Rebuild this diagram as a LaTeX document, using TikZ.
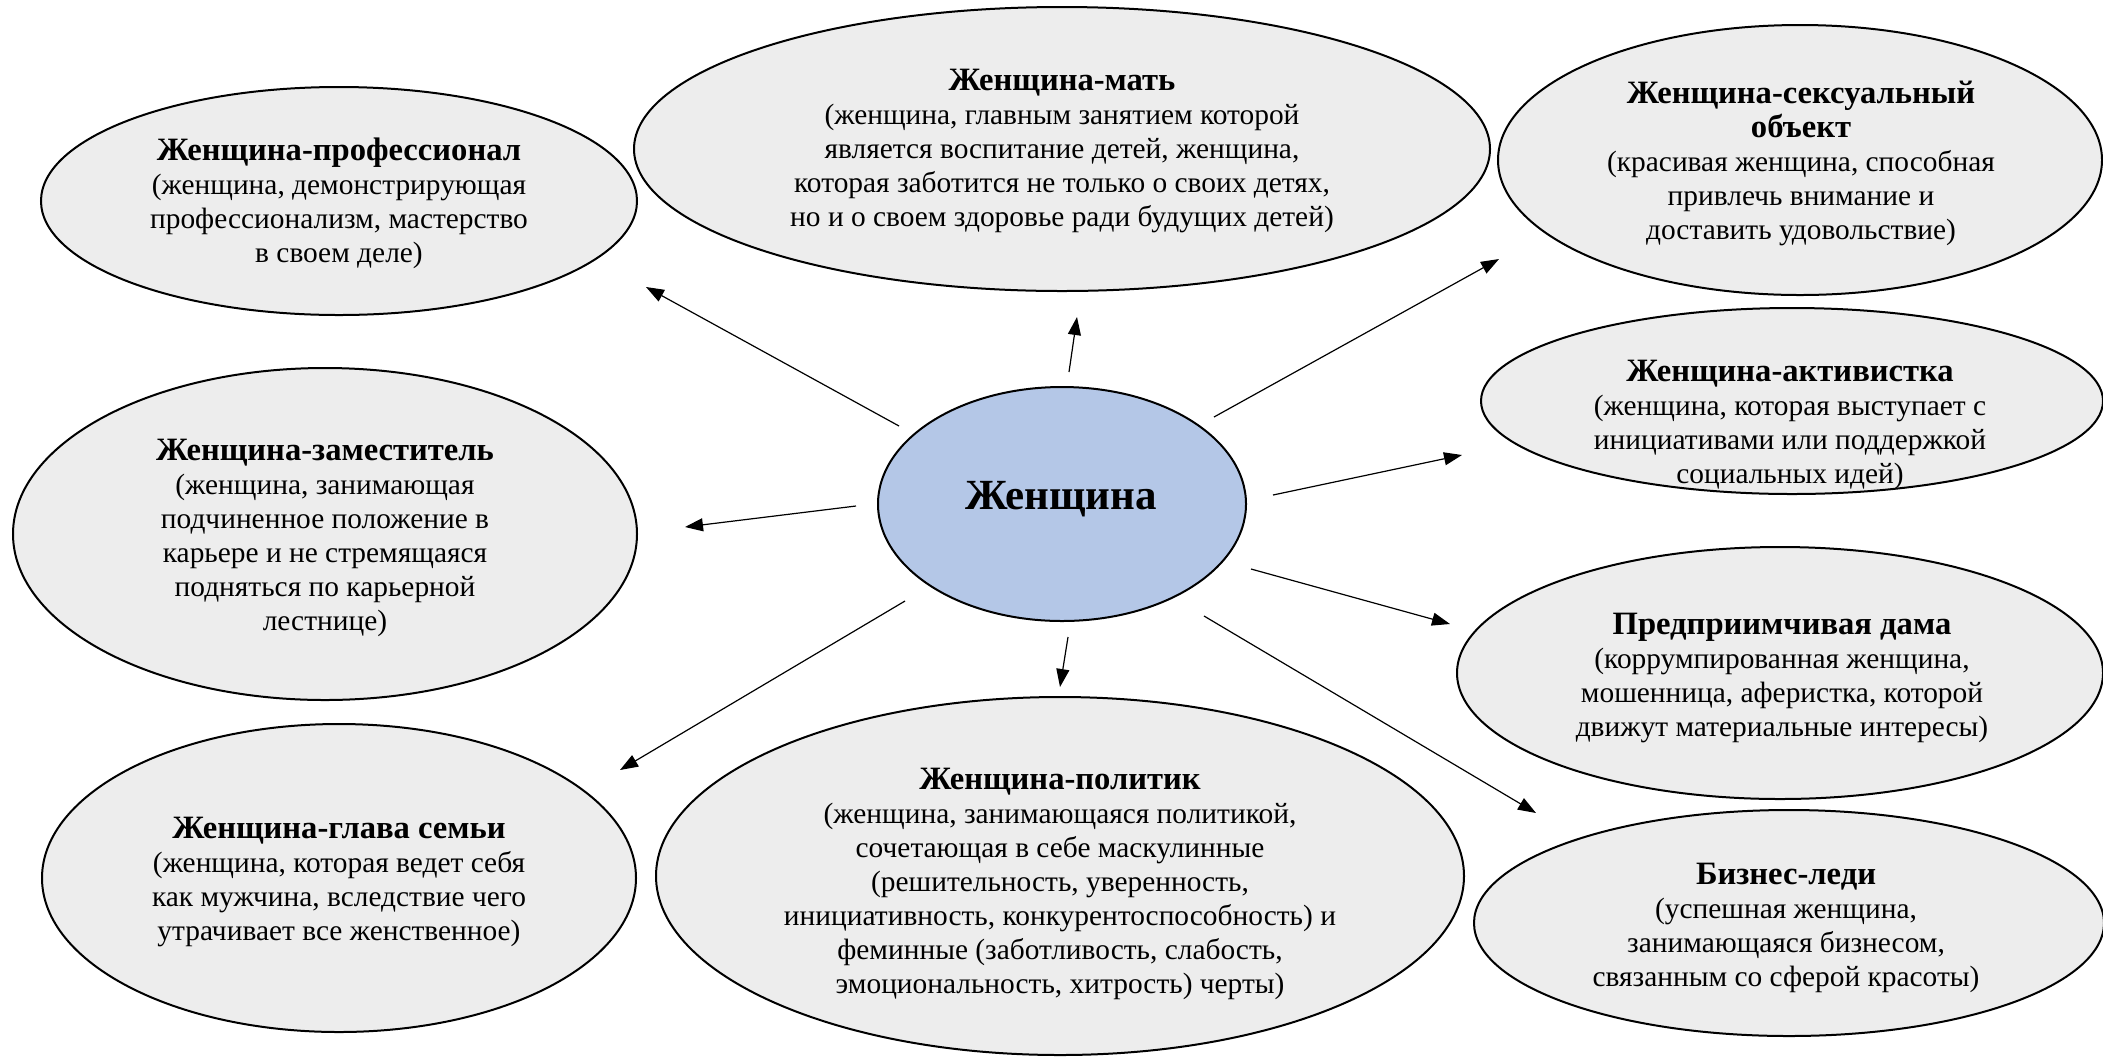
\documentclass[tikz,border=0pt]{standalone}
\usepackage{fontspec}
\setmainfont{Liberation Serif}
\usetikzlibrary{arrows.meta,shapes.geometric}
\definecolor{ovalgrey}{HTML}{EDEDED}
\definecolor{centreblue}{HTML}{B4C7E7}
\newcommand\ttl[1]{{\fontsize{16.3}{17}\selectfont\bfseries #1}}
\begin{document}
\begin{tikzpicture}[x=0.5pt,y=-0.5pt,
  oval/.style={draw, line width=1pt, fill=ovalgrey, ellipse, inner sep=0pt},
  txt/.style={align=center, inner sep=0pt, font=\fontsize{14.7}{17}\selectfont},
  arr/.style={line width=0.6pt, -{Triangle[length=9pt,width=6.5pt]}}]
\useasboundingbox (0,0) rectangle (2103,1056);

% ellipses
\node[oval, minimum width=298pt, minimum height=114pt] (prof) at (339,201) {};
\node[oval, minimum width=428pt, minimum height=142pt] (mat) at (1062,149) {};
\node[oval, minimum width=302pt, minimum height=135pt] (sex) at (1800,160) {};
\node[oval, minimum width=311pt, minimum height=93pt] (akt) at (1792,401) {};
\node[oval, minimum width=323pt, minimum height=126pt] (pred) at (1780,673) {};
\node[oval, minimum width=315pt, minimum height=113pt] (biz) at (1789,923) {};
\node[oval, minimum width=404pt, minimum height=179pt] (pol) at (1060,876) {};
\node[oval, minimum width=297pt, minimum height=154pt] (glava) at (339,878) {};
\node[oval, minimum width=312pt, minimum height=166pt] (zam) at (325,534) {};
\node[oval, fill=centreblue, minimum width=184pt, minimum height=117pt] (wom) at (1062,504) {};

% texts
\node[txt] (prof-t) at (339,203) {\ttl{Женщина-профессионал}\\(женщина, демонстрирующая\\профессионализм, мастерство\\в своем деле)};
\node[txt] (mat-t) at (1062,151) {\ttl{Женщина-мать}\\(женщина, главным занятием которой\\является воспитание детей, женщина,\\которая заботится не только о своих детях,\\но и о своем здоровье ради будущих детей)};
\node[txt] (sex-t) at (1801,163) {\ttl{Женщина-сексуальный}\\\ttl{объект}\\(красивая женщина, способная\\привлечь внимание и\\доставить удовольствие)};
\node[txt] (akt-t) at (1790,425) {\ttl{Женщина-активистка}\\(женщина, которая выступает с\\инициативами или поддержкой\\социальных идей)};
\node[txt] (pred-t) at (1782,678) {\ttl{Предприимчивая дама}\\(коррумпированная женщина,\\мошенница, аферистка, которой\\движут материальные интересы)};
\node[txt] (biz-t) at (1786,928) {\ttl{Бизнес-леди}\\(успешная женщина,\\занимающаяся бизнесом,\\связанным со сферой красоты)};
\node[txt] (pol-t) at (1060,884) {\ttl{Женщина-политик}\\(женщина, занимающаяся политикой,\\сочетающая в себе маскулинные\\(решительность, уверенность,\\инициативность, конкурентоспособность) и\\феминные (заботливость, слабость,\\эмоциональность, хитрость) черты)};
\node[txt] (glava-t) at (339,882) {\ttl{Женщина-глава семьи}\\(женщина, которая ведет себя\\как мужчина, вследствие чего\\утрачивает все женственное)};
\node[txt] (zam-t) at (325,538) {\ttl{Женщина-заместитель}\\(женщина, занимающая\\подчиненное положение в\\карьере и не стремящаяся\\подняться по карьерной\\лестнице)};
\node[txt, font=\fontsize{21.5}{24}\selectfont\bfseries] (wom-t) at (1061,499) {Женщина};

% arrow ends
\coordinate (s1) at (899,426);  \coordinate (e1) at (646,287);
\coordinate (s2) at (1069,372); \coordinate (e2) at (1077,317);
\coordinate (s3) at (1214,417); \coordinate (e3) at (1499,259);
\coordinate (s4) at (1273,495); \coordinate (e4) at (1462,455);
\coordinate (s5) at (1251,569); \coordinate (e5) at (1450,624);
\coordinate (s6) at (1204,616); \coordinate (e6) at (1536,813);
\coordinate (s7) at (1068,637); \coordinate (e7) at (1060,687);
\coordinate (s8) at (905,601);  \coordinate (e8) at (620,770);
\coordinate (s9) at (856,506);  \coordinate (e9) at (685,527);

\foreach \i in {1,...,9} { \draw[arr] (s\i) -- (e\i); }
\end{tikzpicture}
\end{document}
